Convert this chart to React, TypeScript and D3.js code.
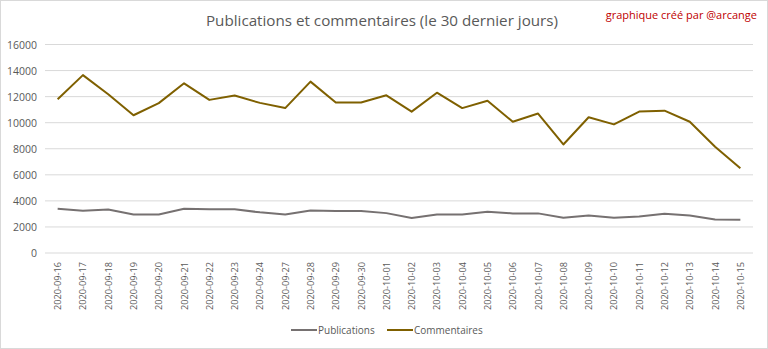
import React from "react";
import * as d3 from "d3";

const dates = [
  "2020-09-16","2020-09-17","2020-09-18","2020-09-19","2020-09-20","2020-09-21","2020-09-22",
  "2020-09-23","2020-09-24","2020-09-27","2020-09-28","2020-09-29","2020-09-30","2020-10-01",
  "2020-10-02","2020-10-03","2020-10-04","2020-10-05","2020-10-06","2020-10-07","2020-10-08",
  "2020-10-09","2020-10-10","2020-10-11","2020-10-12","2020-10-13","2020-10-14","2020-10-15",
];
const publications = [
  3400, 3250, 3330, 2960, 2960, 3400, 3350, 3350, 3120, 2960, 3270, 3220, 3220, 3060,
  2680, 2960, 2960, 3170, 3040, 3040, 2700, 2880, 2700, 2800, 3010, 2880, 2570, 2550,
];
const commentaires = [
  11800, 13650, 12180, 10570, 11500, 13020, 11750, 12080, 11520, 11120, 13150, 11550, 11550, 12100,
  10850, 12300, 11120, 11680, 10070, 10700, 8330, 10420, 9870, 10850, 10920, 10070, 8150, 6510,
];
const yTicks = [0, 2000, 4000, 6000, 8000, 10000, 12000, 14000, 16000];

const W = 768, H = 349;
const M = { left: 45, right: 15, top: 44.5, bottom: 96 };
const FONT = "'Open Sans', 'Liberation Sans', sans-serif";

export default function App() {
  const x = d3.scaleBand().domain(dates).range([M.left, W - M.right]);
  const y = d3.scaleLinear().domain([0, 16000]).range([H - M.bottom, M.top]);
  const cx = (d: string) => (x(d) as number) + x.bandwidth() / 2;
  const line = d3.line<number>().x((_, i) => cx(dates[i])).y((v) => y(v));
  const series = [
    { name: "Publications", values: publications, color: "#767171" },
    { name: "Commentaires", values: commentaires, color: "#7F6000" },
  ];
  return (
    <svg width={W} height={H} style={{ position: "absolute", left: 0, top: 0, background: "#fff" }}>
      <rect x={0.5} y={0.5} width={W - 1} height={H - 1} fill="#fff" stroke="#D9D9D9" />
      <text x={382} y={26} textAnchor="middle" fontFamily={FONT} fontSize={15.2} fill="#595959">
        Publications et commentaires (le 30 dernier jours)
      </text>
      <text x={757} y={19} textAnchor="end" fontFamily={FONT} fontSize={11} fill="#C00000">
        graphique créé par @arcange
      </text>
      {yTicks.map((t) => (
        <g key={t}>
          <line x1={M.left} x2={W - M.right} y1={y(t)} y2={y(t)} stroke="#D9D9D9" strokeWidth={1} />
          <text x={37} y={y(t) + 4} textAnchor="end" fontFamily={FONT} fontSize={10.5} fill="#595959">
            {t}
          </text>
        </g>
      ))}
      {dates.map((d) => (
        <text
          key={d}
          transform={`translate(${cx(d) + 3.5},${H - M.bottom + 9}) rotate(-90)`}
          textAnchor="end"
          fontFamily={FONT}
          fontSize={9.2}
          fill="#595959"
        >
          {d}
        </text>
      ))}
      {series.map((s) => (
        <path key={s.name} d={line(s.values) as string} fill="none" stroke={s.color} strokeWidth={2} strokeLinejoin="round" />
      ))}
      {series.map((s, i) => {
        const lx = [291, 387][i];
        return (
          <g key={s.name}>
            <line x1={lx} x2={lx + 26} y1={330} y2={330} stroke={s.color} strokeWidth={2} />
            <text x={lx + 27} y={334} fontFamily={FONT} fontSize={10} fill="#595959">
              {s.name}
            </text>
          </g>
        );
      })}
    </svg>
  );
}
